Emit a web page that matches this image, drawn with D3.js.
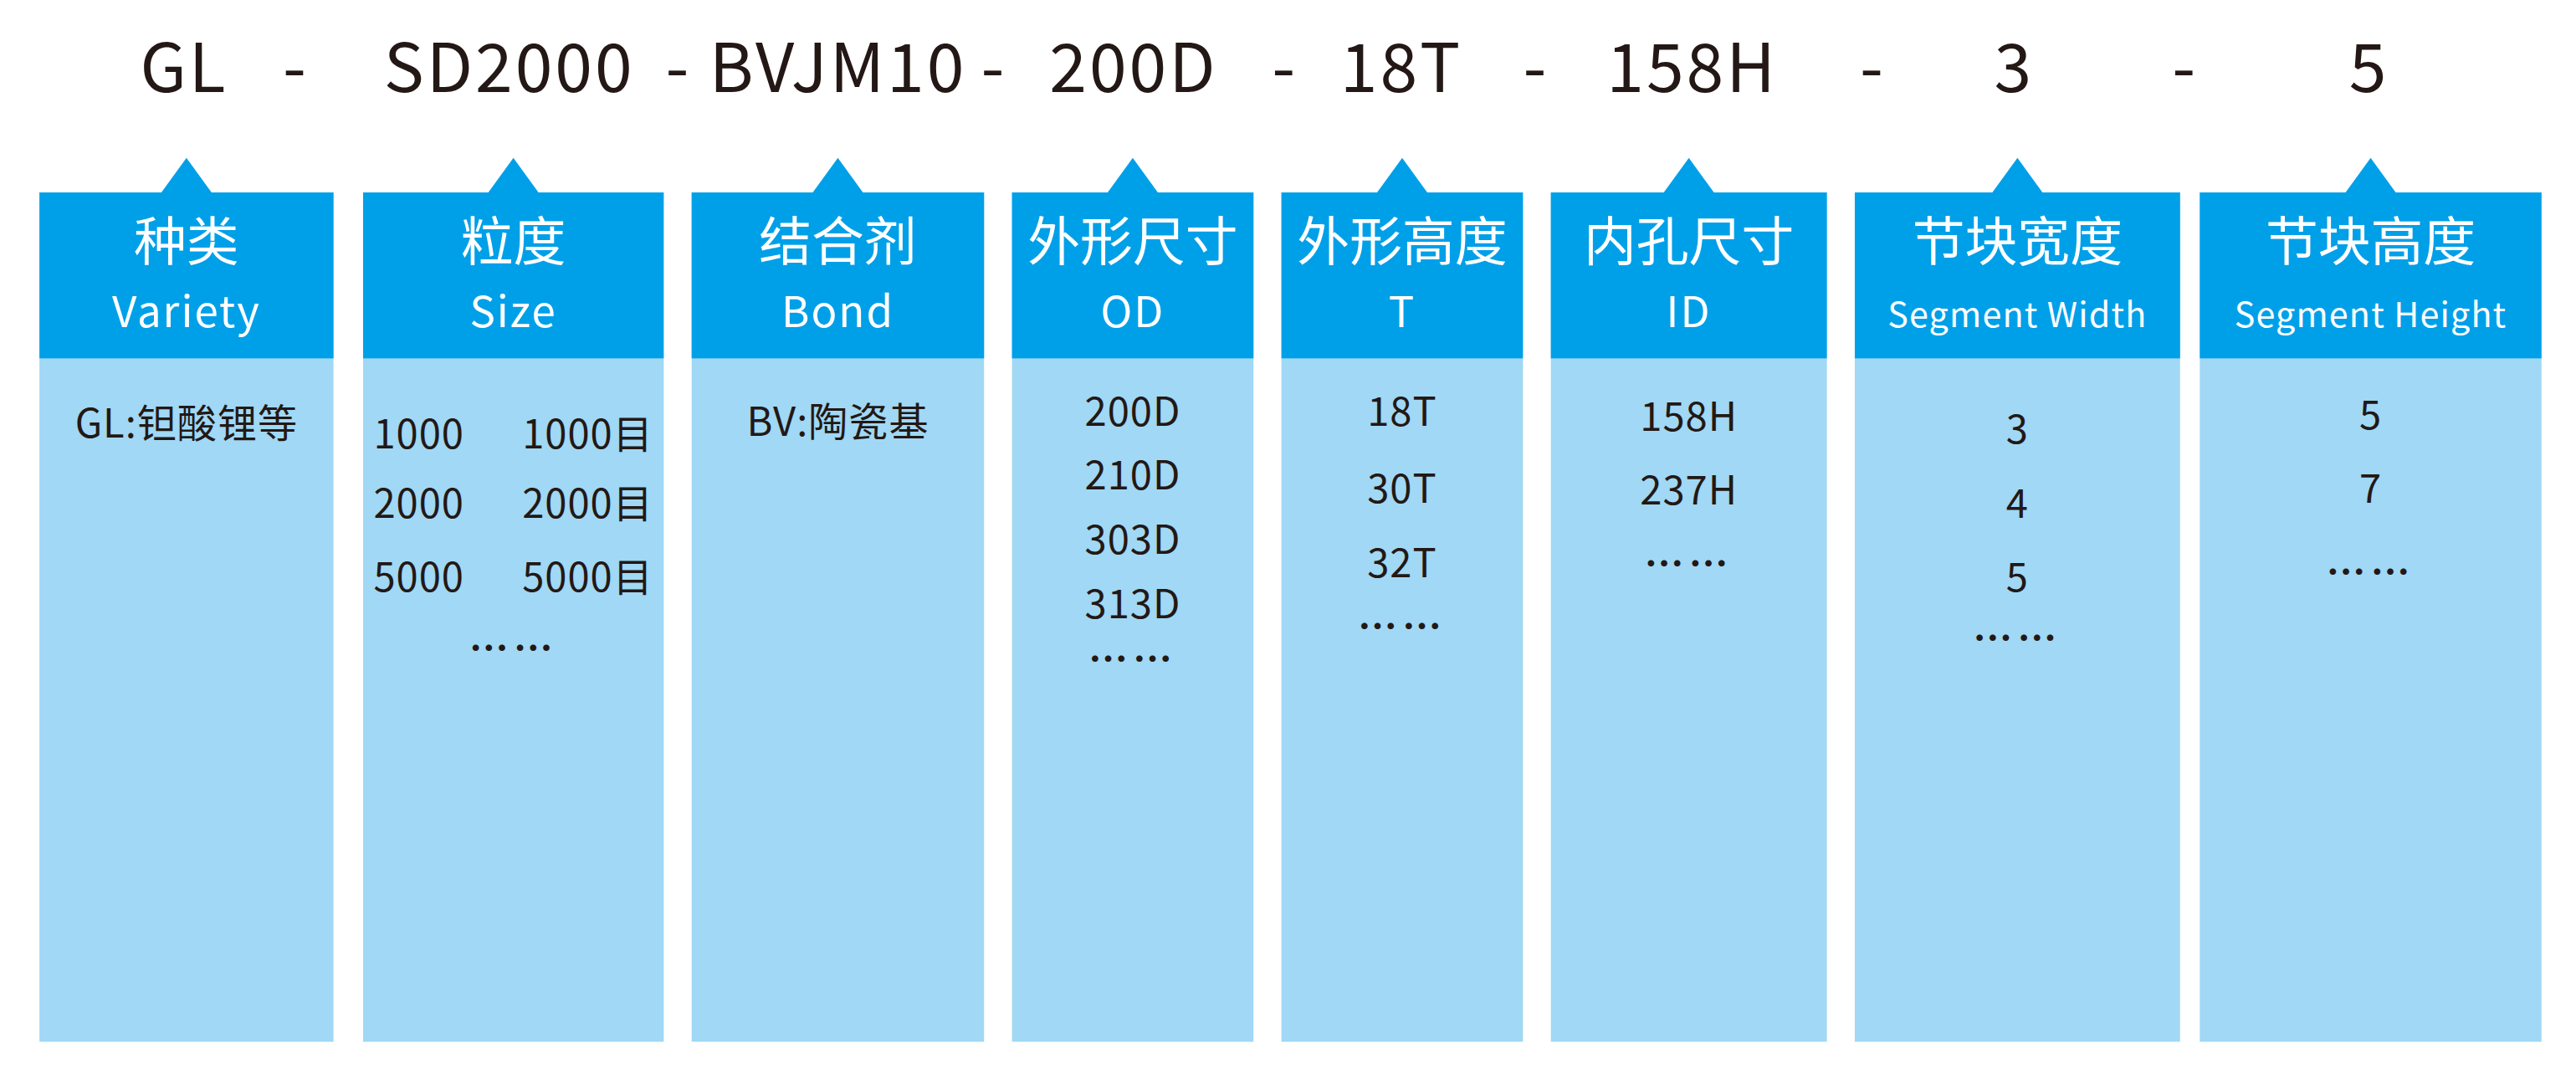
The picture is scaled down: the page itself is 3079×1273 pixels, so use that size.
<!DOCTYPE html>
<html><head><meta charset="utf-8">
<script src="https://cdn.jsdelivr.net/npm/d3@7"></script>
<style>body{margin:0;background:#fff}svg{display:block}text{font-family:"Noto Sans CJK SC","Noto Sans",sans-serif;fill:#231815}</style>
</head><body><div id="chart"></div>
<script>
// model code parts along the top
const codeParts = ["GL","-","SD2000","-","BVJM10","-","200D","-","18T","-","158H","-","3","-","5"];
const codeX = [112,180,310,413,510,605,690,782,853,935,1030,1140,1226,1330,1442];

const cnNames = ["种类","粒度","结合剂","外形尺寸","外形高度","内孔尺寸","节块宽度","节块高度"];
const enNames = ["Variety","Size","Bond","OD","T","ID","Segment Width","Segment Height"];
const colLeft = [24,221,421,616,780,944,1129,1339];
const colRight = [203,404,599,763,927,1112,1327,1547];

// body text per column: [text, y]
const items = [
  [["GL:钽酸锂等",258]],
  [["1000      1000目",265],["2000      2000目",307],["5000      5000目",352],["……",395]],
  [["BV:陶瓷基",257]],
  [["200D",251],["210D",290],["303D",329],["313D",368],["……",402]],
  [["18T",251],["30T",298],["32T",343],["……",382]],
  [["158H",254],["237H",299],["……",344]],
  [["3",262],["4",307],["5",352],["……",389]],
  [["5",253],["7",298],["……",349]]
];

const svg = d3.select("#chart").append("svg")
  .attr("width",3079).attr("height",1273)
  .attr("viewBox","0 0 1568 648");

const y = d3.scaleLinear().domain([0,1]).range([117,634]);

// top code
svg.selectAll(".code").data(codeParts).join("text")
  .attr("x",(d,i)=>codeX[i]).attr("y",56)
  .attr("text-anchor","middle").attr("font-size",41)
  .attr("letter-spacing",1.5)
  .text(d=>d);

const cols = svg.selectAll(".col").data(cnNames).join("g");

// body
cols.append("rect")
  .attr("x",(d,i)=>colLeft[i]).attr("width",(d,i)=>colRight[i]-colLeft[i])
  .attr("y",y(0)).attr("height",y(1)-y(0)).attr("fill","#a0d8f5");
// header
cols.append("rect")
  .attr("x",(d,i)=>colLeft[i]).attr("width",(d,i)=>colRight[i]-colLeft[i])
  .attr("y",117).attr("height",101).attr("fill","#00a0e9");
// arrow
cols.append("path")
  .attr("d",(d,i)=>{const c=(colLeft[i]+colRight[i])/2;return `M${c-16},118 L${c},96 L${c+16},118 Z`;})
  .attr("fill","#00a0e9");

cols.append("text")
  .attr("x",(d,i)=>(colLeft[i]+colRight[i])/2).attr("y",158)
  .attr("text-anchor","middle").attr("font-size",32).style("fill","#fff")
  .text(d=>d);
cols.append("text")
  .attr("x",(d,i)=>(colLeft[i]+colRight[i])/2).attr("y",199)
  .attr("text-anchor","middle")
  .attr("font-size",(d,i)=>enNames[i].length>8?21:26)
  .attr("letter-spacing",(d,i)=>enNames[i].length>8?0.6:1)
  .style("fill","#fff")
  .text((d,i)=>enNames[i]);

cols.each(function(d,i){
  const cx=(colLeft[i]+colRight[i])/2;
  d3.select(this).selectAll(".it").data(items[i]).join("text")
    .attr("x",cx).attr("y",e=>e[1]+8)
    .attr("text-anchor","middle").attr("font-size",24)
    .attr("font-weight",e=>e[0]==="……"?"bold":null)
    .attr("letter-spacing",e=>e[0]==="……"?3:0.5)
    .attr("xml:space","preserve").style("white-space","pre")
    .text(e=>e[0]);
});
</script></body></html>
